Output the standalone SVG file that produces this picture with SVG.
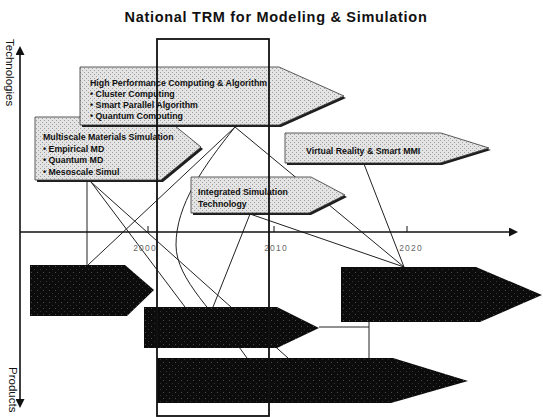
<svg xmlns="http://www.w3.org/2000/svg" width="543" height="417" viewBox="0 0 543 417">
<defs>
<style>
.t{font-family:"Liberation Sans",Arial,sans-serif;font-weight:bold;font-size:8.8px;fill:#111}
.title{font-family:"Liberation Sans",Arial,sans-serif;font-weight:bold;font-size:14.5px;letter-spacing:0.7px;fill:#111}
.ax{font-family:"Liberation Sans",Arial,sans-serif;font-size:11.5px;fill:#111}
.yr{font-family:"Liberation Sans",Arial,sans-serif;font-size:8.5px;letter-spacing:1.2px;fill:#666}
.conn{fill:none;stroke:#222;stroke-width:1}
.tech{fill:url(#dots);stroke:#333;stroke-width:0.8}
.shadow{fill:#1e1e1e}
.prod{fill:url(#dark)}
.axis{stroke:#111;stroke-width:1.6;fill:none}
.tick{stroke:#111;stroke-width:1;fill:none}
.frame{fill:none;stroke:#111;stroke-width:1.8}
</style>
<pattern id="dots" width="4" height="4" patternUnits="userSpaceOnUse">
<rect width="4" height="4" fill="#e4e4e4"/>
<rect width="1" height="1" fill="#a0a0a0"/>
<rect x="2" y="2" width="1" height="1" fill="#a0a0a0"/>
</pattern>
<pattern id="dark" width="6" height="6" patternUnits="userSpaceOnUse">
<rect width="6" height="6" fill="#0c0c0c"/>
<rect x="1" y="2" width="1" height="1" fill="#4a4a4a"/>
<rect x="4" y="5" width="1" height="1" fill="#333"/>
</pattern>
<marker id="arr" viewBox="0 0 10 10" markerWidth="9" markerHeight="9" markerUnits="userSpaceOnUse" refX="0" refY="5" orient="auto-start-reverse">
<path d="M0,0 L10,5 L0,10 z" fill="#111"/>
</marker>
</defs>

<text id="title" class="title" x="276" y="22" text-anchor="middle">National TRM for Modeling &amp; Simulation</text>

<g id="connectors">
<path class="conn" d="M235,127 L88,265"/>
<path class="conn" d="M235,127 L404,267"/>
<path class="conn" d="M235,127 C203,167 176,205 176,245 C176,280 215.5,313 247,358"/>
<path class="conn" d="M87,182 V265"/>
<path class="conn" d="M91,182 L185,307"/>
<path class="conn" d="M91,182 L288,358"/>
<path class="conn" d="M250,214 L213,307"/>
<path class="conn" d="M250,214 L404,267"/>
<path class="conn" d="M364,164 L404,267"/>
<path class="conn" d="M319,327 H369 M369,322 V358"/>
</g>

<g id="n-multiscale">
<polygon class="shadow" transform="translate(2,2)" points="35,117 164,117 201,147 161,180 35,180"/>
<polygon class="tech" points="35,117 164,117 201,147 161,180 35,180"/>
<text class="t" x="43" y="140">Multiscale Materials Simulation</text>
<text class="t" x="43" y="151.5">• Empirical MD</text>
<text class="t" x="43" y="163">• Quantum MD</text>
<text class="t" x="43" y="174.5">• Mesoscale Simul</text>
</g>

<g id="n-hpc">
<polygon class="shadow" transform="translate(2,2)" points="80,67 279,67 344,96 279,125 80,125"/>
<polygon class="tech" points="80,67 279,67 344,96 279,125 80,125"/>
<text class="t" x="90" y="86">High Performance Computing &amp; Algorithm</text>
<text class="t" x="90" y="97">• Cluster Computing</text>
<text class="t" x="90" y="108">• Smart Parallel Algorithm</text>
<text class="t" x="90" y="119">• Quantum Computing</text>
</g>

<g id="n-ist">
<polygon class="shadow" transform="translate(2,2)" points="191,177 311,177 345,195 309,213 191,213"/>
<polygon class="tech" points="191,177 311,177 345,195 309,213 191,213"/>
<text class="t" x="198" y="195">Integrated Simulation</text>
<text class="t" x="198" y="206.5">Technology</text>
</g>

<g id="n-vr">
<polygon class="shadow" transform="translate(2,2)" points="285,133 441,133 489,148 440,163 285,163"/>
<polygon class="tech" points="285,133 441,133 489,148 440,163 285,163"/>
<text class="t" x="306" y="154">Virtual Reality &amp; Smart MMI</text>
</g>

<g id="p1"><polygon class="prod" points="30,265 125,265 154,290 127,316 30,316"/></g>
<g id="p2"><polygon class="prod" points="144,307 277,307 319,328 277,348 144,348"/></g>
<g id="p3"><polygon class="prod" points="341,267 476,267 542,295 480,322 341,322"/></g>
<g id="p4"><polygon class="prod" points="157,358 393,358 468,381 391,403 157,403"/></g>

<g id="axes">
<line class="axis" x1="20" y1="55" x2="20" y2="399" marker-start="url(#arr)" marker-end="url(#arr)"/>
<line class="axis" x1="20" y1="232" x2="509" y2="232" marker-end="url(#arr)"/>
<path class="tick" d="M148,226 V232 M274,226 V232 M407,226 V232"/>
<text class="yr" x="145" y="251" text-anchor="middle">2000</text>
<text class="yr" x="276" y="251" text-anchor="middle">2010</text>
<text class="yr" x="411" y="251" text-anchor="middle">2020</text>
<text class="ax" transform="translate(5.5,39) rotate(90)">Technologies</text>
<text class="ax" transform="translate(8.5,367) rotate(90)">Products</text>
</g>

<rect id="frame" class="frame" x="157" y="39" width="112" height="377"/>
</svg>
